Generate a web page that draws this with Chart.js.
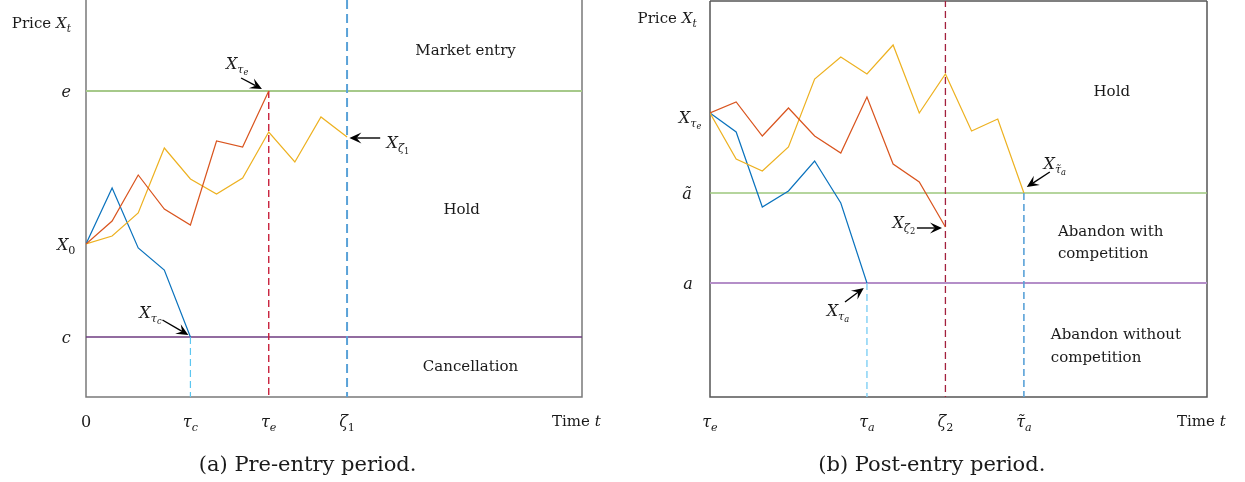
<!DOCTYPE html>
<html>
<head>
<meta charset="utf-8">
<script src="https://cdn.jsdelivr.net/npm/chart.js@4.4.1/dist/chart.umd.min.js"></script>
<style>
  body { margin: 0; background: #fff; }
  #wrap { position: relative; width: 1245px; height: 482px; overflow: hidden; }
  canvas { position: absolute; left: 0; top: 0; }
</style>
</head>
<body>
<div id="wrap">
  <canvas id="preChart" width="1245" height="482"></canvas>
  <canvas id="postChart" width="1245" height="482"></canvas>
</div>
<script>
// time runs over steps 0..19, price in arbitrary units
const tMax = 19;
const yMax = 39.7;

// (a) pre-entry paths
const preRed = [15.3, 17.6, 22.2, 18.8, 17.2, 25.6, 25.0, 30.6];
const preYellow = [15.3, 16.1, 18.4, 24.9, 21.8, 20.3, 21.9, 26.5, 23.5, 28.0, 26.0];
const preBlue = [15.3, 20.9, 14.9, 12.7, 6.0];
const entryLevel = 30.6;
const cancelLevel = 6.0;
const tauC = 4, tauE = 7, zeta1 = 10;

// (b) post-entry paths
const postRed = [28.4, 29.5, 26.1, 28.9, 26.1, 24.4, 30.0, 23.3, 21.5, 17.0];
const postYellow = [28.4, 23.8, 22.6, 25.0, 31.8, 34.0, 32.3, 35.2, 28.4, 32.3, 26.6, 27.8, 20.4];
const postBlue = [28.4, 26.5, 19.0, 20.6, 23.6, 19.4, 11.4];
const abandonCompLevel = 20.4;
const abandonLevel = 11.4;
const tauA = 6, zeta2 = 9, tauTildeA = 12;

const FONT = '"DejaVu Serif", serif';
const colRed = "#d9541e";
const colYellow = "#edb120";
const colBlue = "#0a72bd";

// text pieces: roman, italic, subscript, sub-subscript
const rm = t => ({ t });
const it = t => ({ t, i: true });
const sub = (t, i = true) => ({ t, i, s: 1 });
const sub2 = (t, i = true) => ({ t, i, s: 2 });

const preTicks = [
  { x: 0, segs: [rm("0")] },
  { x: tauC, segs: [it("τ"), sub("c")] },
  { x: tauE, segs: [it("τ"), sub("e")] },
  { x: zeta1, segs: [it("ζ"), sub("1", false)] },
];
const postTicks = [
  { x: 0, segs: [it("τ"), sub("e")] },
  { x: tauA, segs: [it("τ"), sub("a")] },
  { x: zeta2, segs: [it("ζ"), sub("2", false)] },
  { x: tauTildeA, segs: [it("τ\u0303"), sub("a")] },
];

const path = arr => arr.map((y, i) => ({ x: i, y }));
const seg = (x0, y0, x1, y1) => [{ x: x0, y: y0 }, { x: x1, y: y1 }];

function curve(arr, color) {
  return { data: path(arr), borderColor: color, borderWidth: 1.2, order: 1 };
}
function hline(y, color, w) {
  return { data: seg(0, y, tMax, y), borderColor: color, borderWidth: w, order: 3 };
}
function vline(x, yTop, color, w, dash) {
  return { data: seg(x, yTop, x, 0), borderColor: color, borderWidth: w, borderDash: dash || [7, 4], order: 2 };
}

function fontSize(s, size) {
  return s.s === 1 ? size * 0.7 : s.s === 2 ? size * 0.52 : size;
}

function mathWidth(ctx, segs, size) {
  let w = 0;
  segs.forEach(s => {
    ctx.font = (s.i ? "italic " : "") + fontSize(s, size) + "px " + FONT;
    w += ctx.measureText(s.t).width;
  });
  return w;
}

function drawMath(ctx, segs, x, y, size, align) {
  const w = mathWidth(ctx, segs, size);
  let cx = align === "left" ? x : x - w / 2;
  ctx.textBaseline = "alphabetic";
  ctx.textAlign = "left";
  ctx.fillStyle = "#1a1a1a";
  const base = y + size * 0.35;
  segs.forEach(s => {
    const dy = s.s === 1 ? size * 0.28 : s.s === 2 ? size * 0.42 : 0;
    ctx.font = (s.i ? "italic " : "") + fontSize(s, size) + "px " + FONT;
    ctx.fillText(s.t, cx, base + dy);
    cx += ctx.measureText(s.t).width;
  });
}

function drawArrow(ctx, x0, y0, x1, y1) {
  const ang = Math.atan2(y1 - y0, x1 - x0);
  const len = 12, half = 5.5;
  ctx.save();
  ctx.strokeStyle = "#000";
  ctx.fillStyle = "#000";
  ctx.lineWidth = 1.4;
  ctx.beginPath();
  ctx.moveTo(x0, y0);
  ctx.lineTo(x1 - Math.cos(ang) * len * 0.6, y1 - Math.sin(ang) * len * 0.6);
  ctx.stroke();
  ctx.translate(x1, y1);
  ctx.rotate(ang);
  ctx.beginPath();
  ctx.moveTo(0, 0);
  ctx.lineTo(-len, -half);
  ctx.lineTo(-len * 0.6, 0);
  ctx.lineTo(-len, half);
  ctx.closePath();
  ctx.fill();
  ctx.restore();
}

const overlay = {
  id: "overlay",
  beforeDatasetsDraw(chart, args, opts) {
    const { ctx, chartArea: a } = chart;
    ctx.save();
    ctx.strokeStyle = opts.frameColor;
    ctx.lineWidth = 1.5;
    ctx.beginPath();
    if (opts.top) {
      ctx.moveTo(a.left, a.top);
      ctx.lineTo(a.right, a.top);
    }
    ctx.moveTo(a.left, a.top);
    ctx.lineTo(a.left, a.bottom);
    ctx.lineTo(a.right, a.bottom);
    ctx.lineTo(a.right, a.top);
    ctx.stroke();
    ctx.restore();
  },
  afterDatasetsDraw(chart, args, opts) {
    const { ctx, chartArea: a } = chart;
    const sx = chart.scales.x, sy = chart.scales.y;
    ctx.save();
    opts.arrows.forEach(ar => {
      drawArrow(ctx, sx.getPixelForValue(ar.from[0]), sy.getPixelForValue(ar.from[1]),
        sx.getPixelForValue(ar.to[0]), sy.getPixelForValue(ar.to[1]));
    });
    opts.labels.forEach(l => {
      drawMath(ctx, l.segs, sx.getPixelForValue(l.x), sy.getPixelForValue(l.y), l.size || 15, l.align);
    });
    opts.ticks.forEach(t => {
      drawMath(ctx, t.segs, sx.getPixelForValue(t.x), a.bottom + 24, 16);
    });
    drawMath(ctx, [rm("Time "), it("t")], a.right - 30, a.bottom + 24, 15, "left");
    drawMath(ctx, [rm(opts.caption)], sx.getPixelForValue(opts.captionX), a.bottom + 67, 21);
    ctx.restore();
  },
};

function makeChart(id, datasets, pad, ov, top) {
  return new Chart(document.getElementById(id), {
    type: "line",
    data: { datasets },
    plugins: [overlay],
    options: {
      responsive: false,
      animation: false,
      layout: { padding: pad },
      elements: { point: { radius: 0 }, line: { tension: 0 } },
      scales: {
        x: { type: "linear", min: 0, max: tMax, display: false },
        y: { min: 0, max: top, display: false },
      },
      plugins: {
        legend: { display: false },
        tooltip: { enabled: false },
        overlay: ov,
      },
    },
  });
}

makeChart("preChart", [
  curve(preRed, colRed),
  curve(preYellow, colYellow),
  curve(preBlue, colBlue),
  vline(tauC, cancelLevel, "#5cc6f0", 1.2),
  vline(tauE, entryLevel, "#c9203c", 1.4),
  vline(zeta1, yMax, "#5aa2d8", 2, [9, 5]),
  hline(entryLevel, "#a6c98a", 2),
  hline(cancelLevel, "#6e3b80", 1.3),
], { left: 86, right: 663, top: 0, bottom: 85 }, {
  top: false,
  frameColor: "#7a7a7a",
  caption: "(a) Pre-entry period.",
  captionX: 8.49,
  ticks: preTicks,
  arrows: [
    { from: [5.94, 31.9], to: [6.74, 30.8] },
    { from: [2.93, 7.7], to: [3.92, 6.2] },
    { from: [11.27, 25.9], to: [10.09, 25.9] },
  ],
  labels: [
    { x: -1.71, y: 37.4, segs: [rm("Price "), it("X"), sub("t")] },
    { x: -0.76, y: 30.6, segs: [it("e")], size: 16 },
    { x: -0.76, y: 15.3, segs: [it("X"), sub("0", false)], size: 16 },
    { x: -0.76, y: 6.0, segs: [it("c")], size: 16 },
    { x: 5.79, y: 33.4, segs: [it("X"), sub("τ"), sub2("e")], size: 16 },
    { x: 2.47, y: 8.5, segs: [it("X"), sub("τ"), sub2("c")], size: 16 },
    { x: 11.95, y: 25.5, segs: [it("X"), sub("ζ"), sub2("1", false)], size: 16 },
    { x: 14.54, y: 34.7, segs: [rm("Market entry")] },
    { x: 14.39, y: 18.8, segs: [rm("Hold")] },
    { x: 14.73, y: 3.1, segs: [rm("Cancellation")] },
  ],
}, yMax);

makeChart("postChart", [
  curve(postRed, colRed),
  curve(postYellow, colYellow),
  curve(postBlue, colBlue),
  vline(tauA, abandonLevel, "#7fd0f5", 1.4),
  vline(zeta2, yMax, "#a3213d", 1.3),
  vline(tauTildeA, abandonCompLevel, "#5aa2d8", 1.6),
  hline(abandonCompLevel, "#9cc77c", 1.5),
  hline(abandonLevel, "#b48ec8", 2),
], { left: 710, right: 38, top: 1, bottom: 85 }, {
  top: true,
  frameColor: "#555",
  caption: "(b) Post-entry period.",
  captionX: 8.48,
  ticks: postTicks,
  arrows: [
    { from: [7.91, 16.9], to: [8.87, 16.9] },
    { from: [5.16, 9.5], to: [5.88, 10.9] },
    { from: [12.99, 22.5], to: [12.11, 21.0] },
  ],
  labels: [
    { x: -1.64, y: 37.9, segs: [rm("Price "), it("X"), sub("t")] },
    { x: -0.76, y: 28.0, segs: [it("X"), sub("τ"), sub2("e")], size: 16 },
    { x: -0.88, y: 20.4, segs: [it("a\u0303")], size: 16 },
    { x: -0.84, y: 11.4, segs: [it("a")], size: 16 },
    { x: 7.41, y: 17.5, segs: [it("X"), sub("ζ"), sub2("2", false)], size: 16 },
    { x: 4.89, y: 8.7, segs: [it("X"), sub("τ"), sub2("a")], size: 16 },
    { x: 13.18, y: 23.4, segs: [it("X"), sub("τ\u0303"), sub2("a")], size: 16 },
    { x: 15.36, y: 30.6, segs: [rm("Hold")] },
    { x: 13.30, y: 16.6, segs: [rm("Abandon with")], align: "left" },
    { x: 13.30, y: 14.4, segs: [rm("competition")], align: "left" },
    { x: 13.03, y: 6.3, segs: [rm("Abandon without")], align: "left" },
    { x: 13.03, y: 4.0, segs: [rm("competition")], align: "left" },
  ],
}, 39.6);
</script>
</body>
</html>
